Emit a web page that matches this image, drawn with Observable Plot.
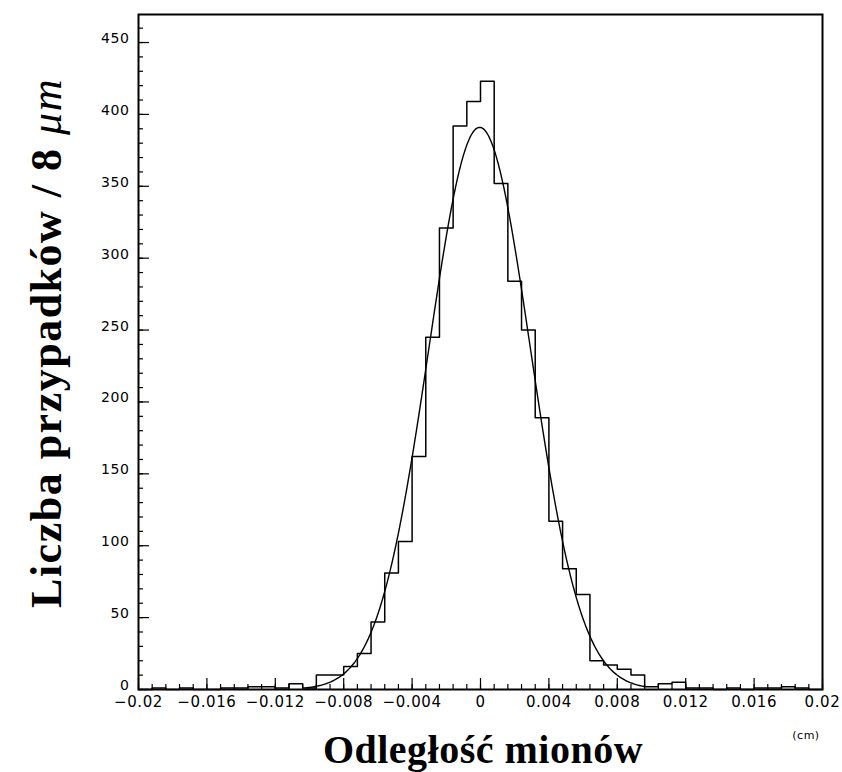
<!DOCTYPE html>
<html><head><meta charset="utf-8">
<script src="https://cdn.jsdelivr.net/npm/d3@7"></script>
<script src="https://cdn.jsdelivr.net/npm/@observablehq/plot@0.6"></script>
<style>body{margin:0;background:#fff}#chart{width:842px;height:772px}</style>
</head><body><div id="chart"></div>
<script>
// Histogram: bin width 8 µm = 0.0008 cm, 50 bins from -0.02 to 0.02 cm
const binStart = -0.02;
const binWidth = 0.0008;
const counts = [0,1,0,1,0, 0,1,1,2,2, 1,4,1,10,10, 16,25,47,81,103,
                162,245,321,392,409, 423,352,284,250,189, 117,84,66,20,17,
                14,10,2,4,5, 1,1,0,1,0, 1,1,2,1,0];
// Gaussian fit parameters
const fitAmplitude = 391;
const fitMean = -0.00005;
const fitSigma = 0.00297;
const fitRange = [-0.0102, 0.0096];
// Axis ticks and labels
const xMajorTicks = [-0.02,-0.016,-0.012,-0.008,-0.004,0,0.004,0.008,0.012,0.016,0.02];
const xTickLabels = ["\u22120.02","\u22120.016","\u22120.012","\u22120.008","\u22120.004","0","0.004","0.008","0.012","0.016","0.02"];
const yMajorTicks = [0,50,100,150,200,250,300,350,400,450];
const yTickLabels = ["0","50","100","150","200","250","300","350","400","450"];
const xTitle = "Odległość mionów";
const yTitleMain = "Liczba przypadków / 8 ";
const yTitleUnit = "μm";
const unitLabel = "(cm)";

const W = 842, H = 772, mL = 138, mR = 20, mT = 14, mB = 83;
const frameW = W - mL - mR, frameH = H - mT - mB;

// step outline points (left bin edge, count) plus closing right edge
const steps = counts.map((c, i) => ({x: binStart + i * binWidth, y: c}));
steps.push({x: binStart + counts.length * binWidth, y: counts[counts.length - 1]});

const fitPts = d3.range(fitRange[0], fitRange[1] + 1e-9, 0.00005).map(x => ({
  x, y: fitAmplitude * Math.exp(-0.5 * ((x - fitMean) / fitSigma) ** 2)
}));

const xMinor = d3.range(0, 51).map(i => binStart + i * binWidth);
const yMinor = d3.range(0, 47).map(i => i * 10);

const plot = Plot.plot({
  width: W, height: H,
  marginLeft: mL, marginRight: mR, marginTop: mT, marginBottom: mB,
  style: {fontFamily: "DejaVu Sans", fontSize: "15px", background: "#fff", color: "#000", letterSpacing: "0.6px"},
  x: {domain: [-0.02, 0.02]},
  y: {domain: [0, 469.5]},
  marks: [
    Plot.tickX(xMinor, {x: d => d, insetTop: frameH - 5, stroke: "#000", strokeWidth: 1.2}),
    Plot.tickX(xMajorTicks, {x: d => d, insetTop: frameH - 11, stroke: "#000", strokeWidth: 1.2}),
    Plot.tickY(yMinor, {y: d => d, insetRight: frameW - 5, stroke: "#000", strokeWidth: 1.2}),
    Plot.tickY(yMajorTicks, {y: d => d, insetRight: frameW - 11, stroke: "#000", strokeWidth: 1.2}),
    Plot.axisX(xMajorTicks, {tickSize: 0, tickPadding: 7, label: null, fontSize: 15,
      tickFormat: d => xTickLabels[xMajorTicks.indexOf(d)]}),
    Plot.axisY(yMajorTicks, {tickSize: 0, tickPadding: 9, label: null, fontSize: 14, dy: -4,
      tickFormat: d => yTickLabels[yMajorTicks.indexOf(d)]}),
    Plot.line(steps, {x: "x", y: "y", curve: "step-after", stroke: "#000", strokeWidth: 1.5}),
    Plot.line(fitPts, {x: "x", y: "y", curve: "linear", stroke: "#000", strokeWidth: 1.4}),
    Plot.frame({stroke: "#000", strokeWidth: 2})
  ]
});

const svg = d3.select(plot);
svg.append("text")
  .attr("x", 483).attr("y", 763)
  .attr("text-anchor", "middle")
  .attr("font-family", "Liberation Serif").attr("font-weight", "bold").attr("font-size", 40)
  .attr("letter-spacing", "0.5px")
  .attr("fill", "#000")
  .text(xTitle);
const yt = svg.append("text")
  .attr("transform", "translate(61,343) rotate(-90)")
  .attr("text-anchor", "middle")
  .attr("font-family", "Liberation Serif").attr("font-weight", "bold").attr("font-size", 44)
  .attr("letter-spacing", "1.5px")
  .attr("fill", "#000");
yt.append("tspan").text(yTitleMain);
yt.append("tspan").attr("font-style", "italic").attr("font-weight", "normal").text(yTitleUnit);
svg.append("text")
  .attr("x", 806).attr("y", 739)
  .attr("text-anchor", "middle")
  .attr("font-family", "DejaVu Sans").attr("font-size", 11)
  .attr("letter-spacing", "0.5px")
  .attr("fill", "#000")
  .text(unitLabel);

document.getElementById("chart").appendChild(plot);
</script>
</body></html>
